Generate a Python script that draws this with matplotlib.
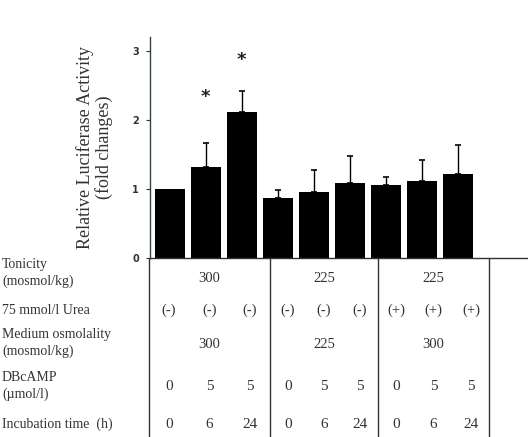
import numpy as np
import matplotlib
matplotlib.use("Agg")
import matplotlib.pyplot as plt
import matplotlib.transforms as mtransforms

# bar heights (fold change) and upper error-bar tips
activity = [1.0, 1.32, 2.12, 0.87, 0.95, 1.08, 1.06, 1.11, 1.21]
err_top = [1.0, 1.67, 2.42, 0.98, 1.27, 1.48, 1.18, 1.42, 1.64]
# asterisk heights for significant bars (None = no mark)
star_y = [None, 2.33, 2.87, None, None, None, None, None, None]

# table below the bars
row_labels = ["Tonicity\n(mosmol/kg)", "75 mmol/l Urea", "Medium osmolality\n(mosmol/kg)",
              "DBcAMP\n(\u00b5mol/l)", "Incubation time  (h)"]
tonicity = ["300", "225", "225"]
urea = ["(-)", "(-)", "(-)", "(-)", "(-)", "(-)", "(+)", "(+)", "(+)"]
medium_osm = ["300", "225", "300"]
dbcamp = ["0", "5", "5", "0", "5", "5", "0", "5", "5"]
incubation = ["0", "6", "24", "0", "6", "24", "0", "6", "24"]

W, H = 528, 437
fig = plt.figure(figsize=(W / 100, H / 100), dpi=100)
serif = "Liberation Serif"

ax = fig.add_axes([150 / W, 1 - 258 / H, 1 - 150 / W, (258 - 37) / H])
x = np.arange(len(activity))
ax.bar(x, activity, width=0.84, color="black", zorder=2)
upper = np.array(err_top) - np.array(activity)
has_err = upper > 0.02
ax.errorbar(x[has_err], np.array(activity)[has_err],
            yerr=[np.zeros(has_err.sum()), upper[has_err]],
            fmt="none", ecolor="black", elinewidth=1, capsize=2.5, capthick=1.2, zorder=1)
for xi, sy in zip(x, star_y):
    if sy is not None:
        ax.text(xi, sy, "*", ha="center", va="center", fontsize=13,
                fontweight="bold", color="#222222")

ax.set_xlim(-0.55, 9.95)
ax.set_ylim(0, 3.2)
ax.set_yticks([0, 1, 2, 3])
ax.set_yticklabels(["0", "1", "2", "3"], fontsize=7, fontweight="bold", color="#333333")
ax.tick_params(axis="y", length=3, width=0.8, pad=5, color="#333333")
ax.set_xticks([])
for s in ["top", "right"]:
    ax.spines[s].set_visible(False)
ax.spines["left"].set_color("#2f4a3a")
ax.spines["bottom"].set_color("#333333")
ax.spines["left"].set_linewidth(1.0)
ax.spines["bottom"].set_linewidth(1.0)
ax.set_ylabel("Relative Luciferase Activity\n(fold changes)", family=serif,
              fontsize=13, color="#333333", labelpad=14, linespacing=1.05)

# table area
tr = mtransforms.blended_transform_factory(ax.transData, fig.transFigure)
def fy(py):
    return 1 - py / H

borders = [-0.58, 2.78, 5.78, 8.88]
for gx in borders:
    fig.add_artist(plt.Line2D([gx, gx], [fy(259), 0], transform=tr, color="#333333", lw=1.0))

# column centres: three even columns inside each group cell
cols = []
groups = []
for lo, hi in zip(borders[:-1], borders[1:]):
    step = (hi - lo) / 3
    cols += [lo + (k + 0.5) * step for k in range(3)]
    groups.append((lo + hi) / 2)

tsize = 10.5
tcol = "#333333"
for g, t in zip(groups, tonicity):
    fig.text(g, fy(278), t, transform=tr, ha="center", va="center", family=serif, fontsize=tsize, color=tcol)
for g, m in zip(groups, medium_osm):
    fig.text(g, fy(345), m, transform=tr, ha="center", va="center", family=serif, fontsize=tsize, color=tcol)
for cx, u, d, inc in zip(cols, urea, dbcamp, incubation):
    fig.text(cx, fy(310), u, transform=tr, ha="center", va="center", family=serif, fontsize=tsize, color=tcol)
    fig.text(cx, fy(386), d, transform=tr, ha="center", va="center", family=serif, fontsize=tsize + 0.5, color=tcol)
    fig.text(cx, fy(424), inc, transform=tr, ha="center", va="center", family=serif, fontsize=tsize + 0.5, color=tcol)

label_y = [273, 310, 343, 386, 424]
for lab, py in zip(row_labels, label_y):
    fig.text(2 / W, fy(py), lab, ha="left", va="center", family=serif, fontsize=10,
             color=tcol, linespacing=1.25)

fig.savefig("out.png", dpi=100, facecolor="white")
